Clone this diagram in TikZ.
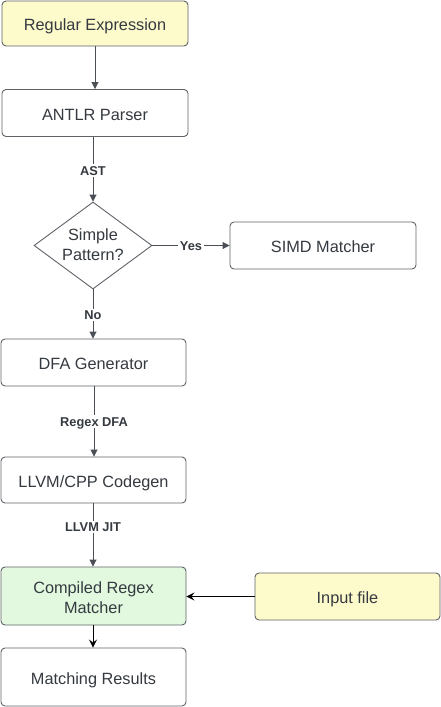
\documentclass[tikz,border=0pt]{standalone}
\usepackage{fontspec}
\setmainfont{Liberation Sans}
\usetikzlibrary{shapes.geometric,arrows.meta}
\definecolor{boxline}{HTML}{5F6368}
\definecolor{txt}{HTML}{353A40}
\definecolor{yel}{HTML}{FDFACB}
\definecolor{grn}{HTML}{E2F9E0}
\definecolor{conn}{HTML}{4A4F55}
\tikzset{
  box/.style={draw=boxline, line width=0.9pt, rounded corners=4pt, fill=white,
    text=txt, font=\fontsize{16.3}{20}\selectfont, align=center,
    minimum width=185pt, inner sep=0pt, text height=14pt, text depth=0pt},
  lbl/.style={fill=white, text=txt, font=\bfseries\fontsize{12.8}{15}\selectfont,
    inner sep=1.5pt, text height=9.5pt, text depth=0pt},
  flow/.style={draw=conn, line width=0.9pt, -{Triangle[length=7pt,width=7pt]}},
  flowb/.style={draw=black, line width=1pt, -{Stealth[length=8pt,width=8pt,inset=3pt]}},
}
\begin{document}
\begin{tikzpicture}[x=1pt,y=-1pt]
\useasboundingbox (0,0) rectangle (441,707);
\node[box, fill=yel, minimum width=186pt, minimum height=45pt] (re) at (95,23.5) {Regular Expression};
\node[box, minimum width=186pt, minimum height=47pt] (antlr) at (95,113) {ANTLR Parser};
\node[draw=boxline, line width=0.9pt, fill=white, diamond, aspect=1.36, inner sep=0pt,
      minimum width=118pt, minimum height=87pt] (dia) at (93,245.5) {};
\node[text=txt, font=\fontsize{16.3}{20}\selectfont, align=center] (diat) at ([yshift=1pt]dia.center) {Simple\\Pattern?};
\node[box, minimum width=186pt, minimum height=47pt] (simd) at (323,245.5) {SIMD Matcher};
\node[box, minimum height=47pt] (dfa) at (93.5,362.5) {DFA Generator};
\node[box, minimum height=46pt] (llvm) at (93.5,480) {LLVM/CPP Codegen};
\node[box, fill=grn, minimum height=58pt, text height=34pt] (comp) at (93.5,596) {Compiled Regex\\Matcher};
\node[box, fill=yel, minimum height=47pt] (inp) at (347.5,596.5) {Input file};
\node[box, minimum height=58pt] (res) at (93.5,677) {Matching Results};

\draw[flow] (re.south -| 95,0) -- (antlr.north -| 95,0);
\draw[flow] (antlr.south -| dia.north) -- node[lbl, pos=0.52] (ast) {AST} (dia.north);
\draw[flow] (dia.east) -- node[lbl, pos=0.5] (yes) {Yes} (simd.west |- dia.east);
\draw[flow] (dia.south) -- node[lbl, pos=0.52] (no) {No} (dfa.north -| dia.south);
\draw[flow] (dfa.south -| 94,0) -- node[lbl, pos=0.5] (rdfa) {Regex DFA} (llvm.north -| 94,0);
\draw[flow] (llvm.south -| 93,0) -- node[lbl, pos=0.37] (jit) {LLVM JIT} (comp.north -| 93,0);
\draw[flowb] (inp.west) -- (comp.east |- inp.west);
\draw[flowb] (comp.south -| 93,0) -- (res.north -| 93,0);
\end{tikzpicture}
\end{document}
